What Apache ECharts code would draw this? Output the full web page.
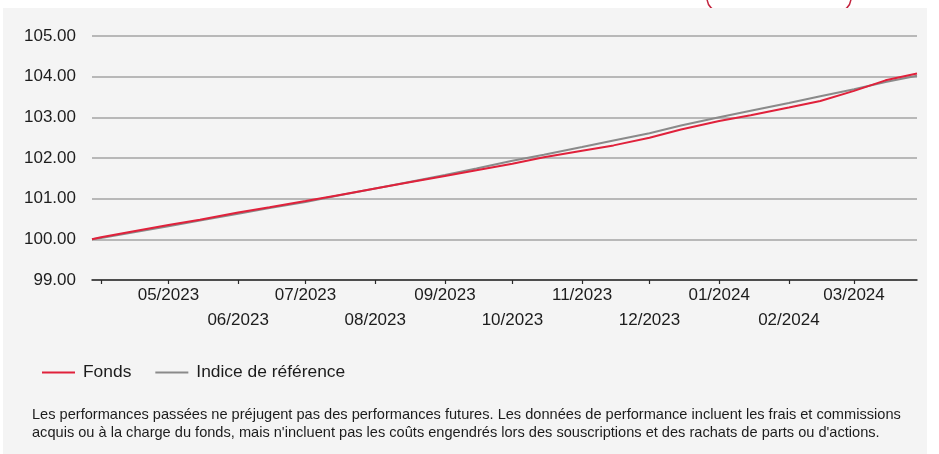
<!DOCTYPE html>
<html>
<head>
<meta charset="utf-8">
<script src="https://cdn.jsdelivr.net/npm/echarts@6/dist/echarts.min.js"></script>
<style>
html,body{margin:0;padding:0;background:#ffffff;}
#chart{width:939px;height:454px;}
</style>
</head>
<body>
<div id="chart"></div>
<script>
// ---- Data ----
const startDate = '2023-03-28';
const endDate = '2024-03-29';

const pointDates = [
  '2023-03-28','2023-04-01','2023-04-15','2023-05-01','2023-05-15','2023-06-01','2023-06-15',
  '2023-07-01','2023-07-15','2023-08-01','2023-08-15','2023-09-01','2023-09-15','2023-10-01',
  '2023-10-15','2023-11-01','2023-11-15','2023-12-01','2023-12-15','2024-01-01','2024-01-15',
  '2024-02-01','2024-02-15','2024-03-01','2024-03-15','2024-03-29'
];
const fondsValues = [
  100.00,100.05,100.19,100.35,100.48,100.66,100.79,
  100.94,101.08,101.25,101.39,101.56,101.70,101.86,
  102.02,102.18,102.31,102.50,102.70,102.91,103.05,
  103.24,103.40,103.65,103.91,104.08
];
const indiceValues = [
  100.00,100.03,100.17,100.32,100.46,100.63,100.77,
  100.92,101.07,101.25,101.40,101.58,101.74,101.93,
  102.08,102.27,102.43,102.61,102.80,103.00,103.16,
  103.35,103.52,103.69,103.87,104.02
];

const monthTicks = [
  '2023-04-01','2023-05-01','2023-06-01','2023-07-01','2023-08-01','2023-09-01',
  '2023-10-01','2023-11-01','2023-12-01','2024-01-01','2024-02-01','2024-03-01'
];
const monthLabels = [
  '','05/2023','06/2023','07/2023','08/2023','09/2023',
  '10/2023','11/2023','12/2023','01/2024','02/2024','03/2024'
];
const yTicks = [99, 100, 101, 102, 103, 104, 105];

const seriesNames = ['Fonds', 'Indice de référence'];
const footnoteLines = [
  "Les performances passées ne préjugent pas des performances futures. Les données de performance incluent les frais et commissions",
  "acquis ou à la charge du fonds, mais n'incluent pas les coûts engendrés lors des souscriptions et des rachats de parts ou d'actions."
];

// ---- Build chart ----
const toTs = s => new Date(s + 'T00:00:00').getTime();
const tickTs = monthTicks.map(toTs);
const FONT = 'Arial, "Liberation Sans", sans-serif';
const TXT = '#1c1c1c';

const chart = echarts.init(document.getElementById('chart'), null, {renderer: 'canvas'});

chart.setOption({
  animation: false,
  backgroundColor: '#ffffff',
  textStyle: {fontFamily: FONT},
  graphic: [
    {
      type: 'rect', z: -20, silent: true,
      shape: {x: 707, y: -40, width: 144, height: 52, r: 14},
      style: {fill: 'none', stroke: '#c4243f', lineWidth: 1.5}
    },
    {
      type: 'rect', z: -10, silent: true,
      shape: {x: 3, y: 8, width: 924, height: 446},
      style: {fill: '#f4f4f4'}
    },
    {
      type: 'text', left: 32, top: 406, silent: true,
      style: {
        text: footnoteLines.join('\n'),
        font: '14.6px ' + FONT,
        fill: TXT,
        lineHeight: 18
      }
    }
  ],
  legend: {
    left: 42,
    top: 364,
    padding: 0,
    icon: 'rect',
    itemWidth: 33,
    itemHeight: 2,
    itemGap: 24,
    textStyle: {fontSize: 17.4, color: TXT, fontFamily: FONT, padding: [0, 0, 0, 3]},
    data: seriesNames
  },
  grid: {left: 92, right: 22, top: 36, bottom: 174, containLabel: false},
  xAxis: {
    type: 'value',
    min: toTs(startDate),
    max: toTs(endDate),
    axisLine: {show: true, lineStyle: {color: '#2a2a2a', width: 1.5}},
    axisTick: {show: true, customValues: tickTs, length: 4, lineStyle: {color: '#2a2a2a', width: 1.2}},
    axisLabel: {
      customValues: tickTs,
      fontSize: 17,
      color: TXT,
      fontFamily: FONT,
      lineHeight: 25,
      margin: 3,
      hideOverlap: false,
      formatter: function (val) {
        const i = tickTs.indexOf(val);
        if (i < 0) return '';
        const lab = monthLabels[i];
        if (!lab) return '';
        const m = new Date(val).getMonth() + 1;
        return (m % 2 === 1) ? lab : '\n' + lab;
      }
    },
    splitLine: {show: false}
  },
  yAxis: {
    type: 'value',
    min: yTicks[0],
    max: yTicks[yTicks.length - 1],
    interval: 1,
    axisLine: {show: false},
    axisTick: {show: false},
    axisLabel: {
      fontSize: 17, color: TXT, fontFamily: FONT, margin: 16,
      formatter: v => v.toFixed(2)
    },
    splitLine: {show: true, lineStyle: {color: '#a4a4a4', width: 1.6}}
  },
  series: [
    {
      name: seriesNames[0],
      type: 'line',
      symbol: 'none',
      z: 5,
      color: '#e0213b',
      lineStyle: {color: '#e0213b', width: 2},
      data: pointDates.map((d, i) => [toTs(d), fondsValues[i]])
    },
    {
      name: seriesNames[1],
      type: 'line',
      symbol: 'none',
      z: 3,
      color: '#8a8a8a',
      lineStyle: {color: '#8a8a8a', width: 2},
      data: pointDates.map((d, i) => [toTs(d), indiceValues[i]])
    }
  ]
});
</script>
</body>
</html>
